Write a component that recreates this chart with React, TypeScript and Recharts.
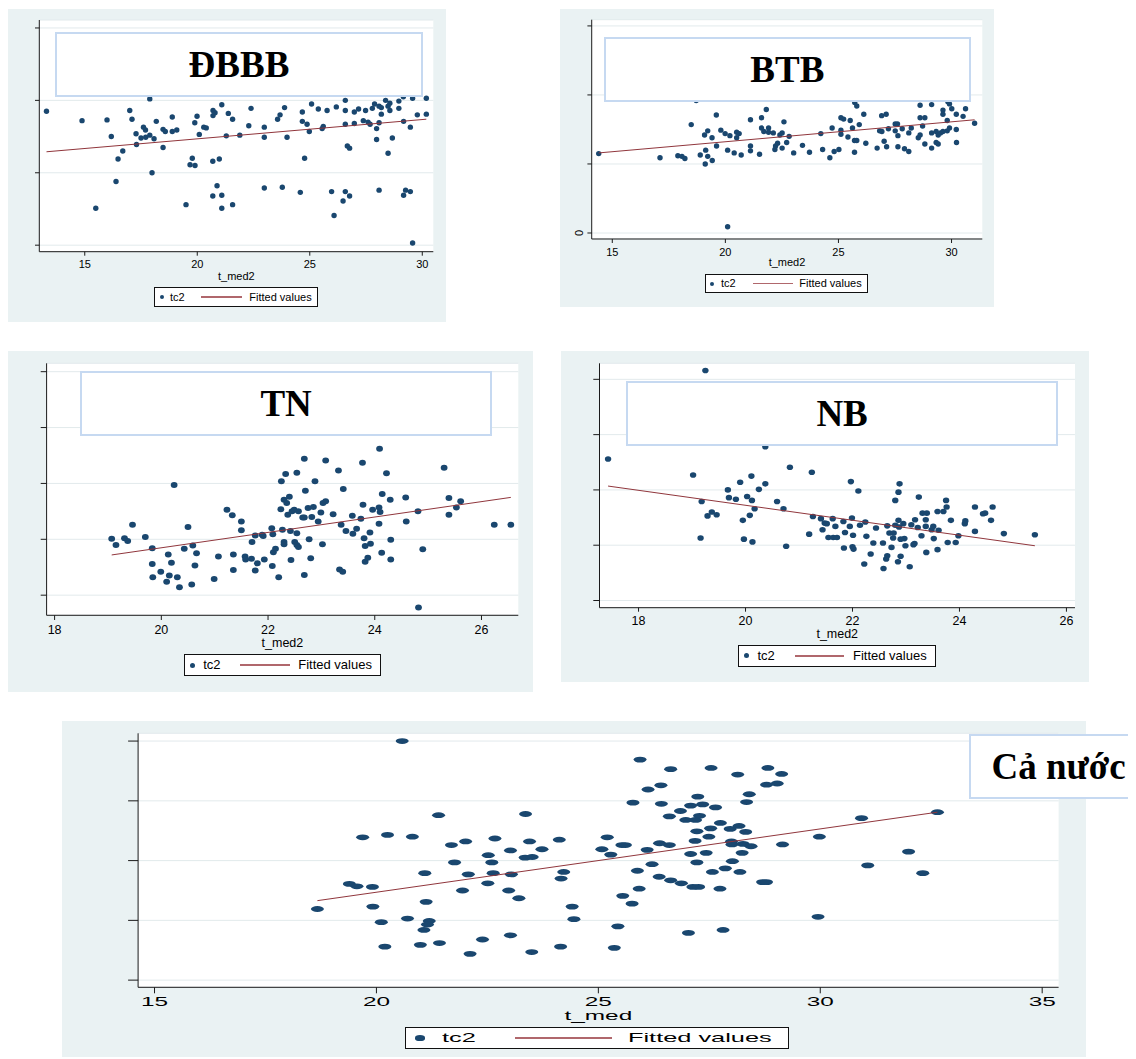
import React from "react";
import { ScatterChart, Scatter, XAxis, YAxis, CartesianGrid } from "recharts";

type Pt = [number, number];

// ĐBBB
const dbbbPoints: Pt[] = [
  [13.3, 1.85], [14.88, 1.72], [15.49, 0.51], [15.99, 1.73], [16.18, 1.5], [16.48, 1.19], [16.39, 0.88], [16.69, 1.3],
  [17.0, 1.86], [17.1, 1.74], [17.28, 1.54], [17.3, 1.39], [17.5, 1.48], [17.61, 1.63], [17.7, 1.59], [17.71, 1.49],
  [17.89, 2.02], [17.89, 1.52], [17.99, 1.0], [18.08, 1.47], [18.18, 1.71], [18.48, 1.35], [18.48, 1.6], [18.58, 1.57],
  [18.89, 1.77], [18.89, 1.57], [19.09, 1.59], [19.5, 0.56], [19.68, 1.11], [19.78, 1.2], [19.9, 1.1], [19.89, 1.69],
  [19.99, 1.78], [20.09, 1.53], [20.29, 1.63], [20.4, 1.62], [20.69, 1.16], [20.69, 0.68], [20.7, 1.86], [20.7, 1.79],
  [20.79, 1.83], [20.88, 0.82], [20.98, 1.19], [21.09, 1.94], [21.09, 0.69], [21.09, 0.51], [21.29, 1.51], [21.38, 1.82],
  [21.57, 1.74], [21.57, 0.56], [21.89, 1.52], [22.29, 1.65], [22.39, 1.89], [22.98, 1.63], [22.98, 1.49], [22.98, 0.79],
  [23.57, 1.74], [23.68, 1.8], [23.78, 0.8], [23.88, 1.9], [23.99, 1.49], [24.58, 0.73], [24.67, 1.84], [24.67, 1.71],
  [24.77, 1.2], [24.88, 1.67], [24.98, 1.57], [25.08, 1.95], [25.38, 1.88], [25.55, 1.61], [25.6, 1.64], [25.77, 1.86],
  [25.97, 0.74], [26.08, 0.41], [26.18, 1.91], [26.48, 0.61], [26.58, 2.0], [26.58, 1.86], [26.58, 1.67], [26.58, 0.74],
  [26.67, 1.37], [26.77, 1.34], [26.77, 0.68], [26.98, 1.84], [26.98, 1.68], [27.17, 1.88], [27.38, 1.72], [27.48, 1.86],
  [27.59, 1.7], [27.68, 1.67], [27.78, 1.89], [27.88, 1.95], [27.97, 1.61], [27.97, 1.46], [28.08, 1.92], [28.08, 1.69],
  [28.08, 0.76], [28.18, 1.9], [28.18, 1.81], [28.37, 2.0], [28.48, 1.27], [28.48, 1.92], [28.56, 1.96], [28.56, 1.86],
  [28.67, 1.48], [28.96, 1.99], [28.96, 1.89], [29.17, 1.71], [29.17, 0.69], [29.26, 0.76], [29.47, 1.63], [29.47, 0.74],
  [29.57, 2.03], [29.57, 0.03], [29.78, 1.8], [30.18, 2.03], [30.18, 1.81], [29.16, 2.05],
];
const dbbbFit: Pt[] = [[13.3, 1.29], [30.18, 1.74]];

// BTB
const btbPoints: Pt[] = [
  [14.4, 1.15], [17.11, 1.09], [17.9, 1.12], [18.08, 1.11], [18.21, 1.08], [18.49, 1.57], [18.71, 1.92], [18.89, 1.13],
  [19.08, 1.42], [19.11, 1.0], [19.13, 1.2], [19.22, 1.48], [19.22, 1.11], [19.41, 1.38], [19.42, 1.05], [19.6, 1.71],
  [19.61, 1.26], [19.8, 1.49], [19.99, 1.44], [20.1, 0.09], [20.1, 1.2], [20.2, 1.41], [20.39, 1.16], [20.5, 1.46],
  [20.5, 1.38], [20.61, 1.44], [20.7, 1.13], [21.11, 1.64], [21.11, 1.26], [21.11, 1.19], [21.51, 1.14], [21.6, 1.67],
  [21.6, 1.52], [21.7, 1.47], [21.81, 1.79], [21.91, 1.52], [21.91, 1.46], [22.12, 1.45], [22.19, 1.21], [22.22, 1.26],
  [22.31, 1.3], [22.41, 1.42], [22.51, 1.45], [22.51, 1.23], [22.59, 1.61], [22.71, 1.31], [22.82, 1.4], [23.02, 1.16],
  [23.41, 1.27], [23.72, 1.17], [24.22, 1.44], [24.3, 1.21], [24.62, 1.09], [24.72, 1.52], [24.81, 1.18], [25.02, 1.21],
  [25.11, 1.67], [25.11, 1.49], [25.11, 1.43], [25.23, 1.65], [25.42, 1.39], [25.52, 1.63], [25.62, 1.52], [25.71, 1.34],
  [25.71, 1.17], [25.81, 1.84], [25.81, 1.34], [25.92, 1.57], [26.12, 1.72], [26.21, 1.3], [26.71, 1.23], [26.82, 1.48],
  [26.91, 1.7], [26.92, 1.47], [27.02, 1.33], [27.11, 1.72], [27.13, 1.25], [27.21, 1.51], [27.51, 1.48], [27.51, 1.58],
  [27.61, 1.58], [27.63, 1.25], [27.63, 1.41], [27.82, 1.51], [27.92, 1.22], [28.11, 1.45], [28.11, 1.18], [28.22, 1.52],
  [28.53, 1.38], [28.61, 1.85], [28.61, 1.67], [28.61, 1.42], [28.72, 1.55], [28.82, 1.67], [28.82, 1.29], [29.12, 1.86],
  [29.12, 1.45], [29.12, 1.23], [29.32, 1.47], [29.32, 1.31], [29.41, 1.42], [29.41, 1.29], [29.51, 1.45], [29.62, 1.78],
  [29.62, 1.72], [29.62, 1.47], [29.81, 1.63], [29.81, 1.48], [29.91, 1.87], [29.91, 1.52], [30.01, 1.8], [30.21, 1.72],
  [30.21, 1.5], [30.22, 1.31], [30.51, 1.69], [30.62, 1.8], [31.02, 1.59], [25.72, 1.89], [29.84, 1.9],
];
const btbFit: Pt[] = [[14.4, 1.16], [31.02, 1.64]];

// TN
const tnPoints: Pt[] = [
  [19.07, 1.01], [19.15, 0.9], [19.31, 1.02], [19.37, 0.97], [19.46, 1.26], [19.7, 1.04], [19.83, 0.84], [19.83, 0.56],
  [19.84, 0.32], [19.99, 0.42], [20.1, 0.24], [20.13, 0.73], [20.15, 0.35], [20.19, 0.58], [20.24, 1.97], [20.3, 0.32],
  [20.34, 0.14], [20.43, 0.83], [20.5, 1.22], [20.57, 0.19], [20.59, 0.89], [20.63, 0.53], [20.66, 0.75], [20.99, 0.29],
  [21.07, 0.69], [21.23, 1.53], [21.33, 1.43], [21.35, 0.73], [21.35, 0.45], [21.5, 1.32], [21.5, 1.16], [21.57, 0.69],
  [21.58, 0.64], [21.69, 0.65], [21.7, 0.95], [21.76, 1.07], [21.76, 0.44], [21.8, 0.57], [21.89, 1.08], [21.91, 1.06],
  [21.93, 0.64], [22.07, 1.2], [22.09, 1.09], [22.08, 0.52], [22.1, 0.77], [22.14, 0.83], [22.2, 0.32], [22.24, 1.54],
  [22.25, 2.04], [22.27, 1.17], [22.3, 1.71], [22.3, 0.95], [22.3, 0.91], [22.33, 2.17], [22.35, 1.65], [22.37, 1.44],
  [22.4, 1.76], [22.42, 1.15], [22.43, 0.63], [22.45, 1.5], [22.49, 1.53], [22.5, 0.95], [22.54, 2.19], [22.54, 1.11],
  [22.54, 0.9], [22.57, 1.5], [22.57, 0.86], [22.65, 1.39], [22.68, 2.44], [22.68, 1.39], [22.68, 0.36], [22.7, 1.87],
  [22.75, 1.56], [22.77, 1.0], [22.8, 0.66], [22.82, 1.4], [22.85, 1.58], [22.88, 2.04], [22.94, 1.32], [22.99, 1.48],
  [23.02, 0.91], [23.03, 1.65], [23.08, 2.41], [23.08, 1.68], [23.22, 1.45], [23.32, 2.23], [23.34, 0.46], [23.37, 1.26],
  [23.4, 0.42], [23.41, 1.9], [23.46, 1.15], [23.58, 1.42], [23.59, 1.1], [23.66, 1.19], [23.74, 1.37], [23.77, 2.37],
  [23.78, 1.62], [23.8, 1.02], [23.82, 0.88], [23.82, 0.6], [23.87, 0.67], [23.91, 1.12], [23.92, 0.92], [23.96, 1.53],
  [24.08, 1.57], [24.08, 1.28], [24.09, 2.62], [24.1, 1.49], [24.13, 0.76], [24.14, 1.81], [24.22, 2.18], [24.29, 1.71],
  [24.3, 0.99], [24.3, 0.64], [24.58, 1.75], [24.59, 1.32], [24.81, 1.5], [24.82, -0.22], [24.9, 0.82], [25.3, 2.28],
  [25.39, 1.74], [25.39, 1.44], [25.53, 1.57], [25.61, 1.68], [26.24, 1.26], [26.55, 1.26],
];
const tnFit: Pt[] = [[19.07, 0.72], [26.55, 1.75]];

// NB
const nbPoints: Pt[] = [
  [17.43, 2.56], [19.25, 4.16], [19.02, 2.27], [19.18, 1.79], [19.16, 1.13], [19.29, 1.53], [19.37, 1.6], [19.46, 1.55],
  [19.67, 2.0], [19.69, 1.86], [19.82, 1.83], [19.9, 2.14], [19.95, 1.45], [19.97, 1.11], [20.03, 1.88], [20.08, 1.54],
  [20.11, 2.25], [20.12, 1.81], [20.13, 1.06], [20.17, 1.66], [20.25, 2.01], [20.37, 2.11], [20.37, 2.78], [20.59, 1.79],
  [20.71, 1.66], [20.76, 0.98], [20.83, 2.41], [21.19, 1.2], [21.24, 2.32], [21.26, 1.52], [21.41, 1.48], [21.44, 1.28],
  [21.48, 1.4], [21.52, 1.39], [21.55, 1.14], [21.63, 1.48], [21.64, 1.14], [21.68, 1.34], [21.71, 1.14], [21.83, 1.43],
  [21.84, 0.95], [21.86, 1.23], [21.95, 1.34], [21.97, 2.15], [21.99, 1.49], [22.0, 0.97], [22.01, 1.18], [22.02, 0.93],
  [22.11, 1.98], [22.14, 1.36], [22.22, 0.66], [22.24, 1.42], [22.26, 1.16], [22.34, 0.84], [22.39, 1.04], [22.44, 1.31],
  [22.57, 1.04], [22.58, 0.58], [22.63, 0.75], [22.65, 1.35], [22.65, 0.81], [22.69, 1.22], [22.73, 0.96], [22.76, 1.13],
  [22.77, 1.22], [22.8, 1.81], [22.8, 1.36], [22.85, 0.7], [22.86, 1.45], [22.86, 1.96], [22.87, 1.33], [22.88, 2.11],
  [22.9, 0.8], [22.9, 1.11], [22.95, 1.39], [22.97, 1.12], [22.99, 0.99], [23.07, 0.61], [23.1, 1.37], [23.14, 1.01],
  [23.16, 1.03], [23.17, 1.46], [23.22, 1.32], [23.24, 1.87], [23.29, 1.17], [23.31, 1.58], [23.37, 1.34], [23.37, 1.46],
  [23.38, 0.87], [23.39, 1.58], [23.48, 1.28], [23.51, 1.34], [23.52, 1.12], [23.59, 1.61], [23.59, 0.92], [23.61, 1.27],
  [23.7, 1.61], [23.75, 1.81], [23.76, 1.69], [23.78, 1.05], [23.84, 1.45], [23.93, 1.05], [23.98, 1.17], [24.1, 1.39],
  [24.11, 1.44], [24.29, 1.69], [24.29, 1.25], [24.44, 1.57], [24.48, 1.58], [24.59, 1.45], [24.62, 1.69], [24.83, 1.21],
  [25.41, 1.19],
];
const nbFit: Pt[] = [[17.43, 2.07], [25.41, 0.99]];

// Cả nước
const allPoints: Pt[] = [
  [20.58, 4.0], [21.4, 2.76], [23.36, 2.78], [19.69, 2.39], [20.25, 2.43], [20.81, 2.4], [21.69, 2.26], [22.01, 2.32],
  [22.67, 2.37], [23.45, 2.32], [24.12, 2.35], [23.73, 2.19], [23.02, 2.17], [22.52, 2.09], [22.6, 1.97], [23.35, 2.05],
  [23.51, 2.06], [21.76, 1.97], [21.09, 1.79], [22.07, 1.77], [22.63, 1.79], [23.04, 1.77], [24.22, 1.81], [24.16, 1.7],
  [19.39, 1.61], [19.56, 1.57], [19.91, 1.56], [22.51, 1.62], [21.94, 1.5], [22.98, 1.5], [23.21, 1.37], [21.12, 1.31],
  [18.67, 1.19], [19.92, 1.23], [24.41, 1.23], [20.7, 1.03], [24.45, 1.02], [20.11, 0.97], [21.19, 0.99], [21.15, 0.93],
  [21.07, 0.84], [23.02, 0.75], [22.39, 0.68], [21.42, 0.62], [20.19, 0.56], [20.99, 0.59], [24.15, 0.56], [22.11, 0.44],
  [23.5, 0.47],
  [25.94, 3.69], [26.63, 3.53], [27.54, 3.55], [28.14, 3.44], [28.82, 3.55], [29.13, 3.45], [26.12, 3.19], [26.41, 3.26],
  [28.79, 3.27], [29.03, 3.29], [28.4, 3.11], [28.34, 2.98], [25.78, 2.97], [26.42, 2.95], [27.24, 3.07], [27.08, 2.92],
  [27.35, 2.94], [27.64, 2.89], [26.85, 2.83], [26.6, 2.74], [27.28, 2.75], [26.97, 2.68], [27.19, 2.68], [27.75, 2.63],
  [27.53, 2.54], [27.22, 2.49], [27.49, 2.4], [27.97, 2.53], [28.17, 2.58], [28.32, 2.48], [25.2, 2.39], [25.08, 2.19],
  [25.28, 2.1], [25.53, 2.26], [25.61, 2.26], [26.1, 2.18], [26.38, 2.29], [26.6, 2.26], [27.18, 2.33], [28.0, 2.32],
  [28.01, 2.27], [28.26, 2.28], [28.44, 2.24], [29.15, 2.27], [29.98, 2.4], [30.93, 2.71], [32.64, 2.81], [31.99, 2.15],
  [31.07, 1.92], [32.31, 1.79], [27.08, 2.11], [27.43, 2.13], [28.24, 2.13], [26.21, 1.94], [27.22, 1.97], [28.02, 1.99],
  [25.88, 1.83], [27.57, 1.81], [27.86, 1.87], [28.19, 1.81], [26.37, 1.73], [26.63, 1.67], [26.87, 1.62], [27.13, 1.56],
  [27.26, 1.56], [27.74, 1.53], [28.7, 1.64], [28.79, 1.64], [25.92, 1.53], [25.55, 1.41], [25.76, 1.28], [29.95, 1.06],
  [25.44, 0.9], [27.81, 0.84], [27.03, 0.79], [25.36, 0.54],
];
const allFit: Pt[] = [[18.67, 1.33], [32.64, 2.81]];

const ticks15to30 = [15, 20, 25, 30];
const ticks18to26 = [18, 20, 22, 24, 26];
const ticks15to35 = [15, 20, 25, 30, 35];
const yTicks4 = [0, 1, 2, 3];
const yTicks5 = [0, 1, 2, 3, 4];

const NAVY = "#1a476f";
const MAROON = "#90353b";
const LEGEND_LINE = "#b0676c";
const BG = "#eaf2f3";
const GRID = "#e2eaec";
const BOX = "#c6d9f1";
const SANS = '"Liberation Sans", Arial, sans-serif';
const SERIF = '"Liberation Serif", "Times New Roman", serif';

type Rect = { l: number; t: number; r: number; b: number };

interface PanelCfg {
  title: string;
  points: Pt[];
  fit: Pt[];
  xLabel: string;
  xTicks: number[];
  yTicks: number[];
  xDomain: [number, number];
  yDomain: [number, number];
  bg: { x: number; y: number; w: number; h: number };
  plot: Rect;
  titleBox: Rect;
  legend: { l: number; t: number; w: number; h: number; dot: number; tc2: number; line: number; lineW: number; fitted: number; drx: number; dry: number };
  font: number;
  axisFont: number;
  sx: number;
  gap: number;
  xLabelY: number;
  xTickLen: number;
  yTickLen: number;
  rx: number;
  ry: number;
  zeroLabel?: boolean;
}

function Panel(c: PanelCfg) {
  const { bg, plot, titleBox: tb, legend: lg } = c;
  const data = c.points.map(([x, y]) => ({ x, y }));
  const fit = c.fit.map(([x, y]) => ({ x, y }));
  const axisY = plot.b - bg.y;
  const inner = lg.h - 2;
  return (
    <div style={{ position: "absolute", left: bg.x, top: bg.y, width: bg.w, height: bg.h, background: BG }}>
      <ScatterChart
        width={bg.w}
        height={bg.h}
        margin={{ top: plot.t - bg.y, right: bg.x + bg.w - plot.r, bottom: 0, left: 0 }}
      >
        <CartesianGrid vertical={false} stroke={GRID} fill="#ffffff" fillOpacity={1} />
        <XAxis
          type="number"
          dataKey="x"
          domain={c.xDomain}
          ticks={c.xTicks}
          interval={0}
          allowDataOverflow
          height={bg.y + bg.h - plot.b}
          stroke="#1a1a1a"
          tickSize={c.xTickLen}
          tickMargin={0}
          tick={(p: any) => (
            <text
              transform={`translate(${p.x},${axisY + c.gap}) scale(${c.sx},1)`}
              textAnchor="middle"
              dy="0.36em"
              fontSize={c.axisFont}
              fontFamily={SANS}
              fill="#000"
            >
              {p.payload.value}
            </text>
          )}
          label={{
            content: () => (
              <text
                transform={`translate(${(plot.l + plot.r) / 2 - bg.x},${c.xLabelY - bg.y}) scale(${c.sx},1)`}
                textAnchor="middle"
                dy="0.36em"
                fontSize={c.axisFont}
                fontFamily={SANS}
                fill="#000"
              >
                {c.xLabel}
              </text>
            ),
          }}
        />
        <YAxis
          type="number"
          dataKey="y"
          domain={c.yDomain}
          ticks={c.yTicks}
          interval={0}
          allowDataOverflow
          width={plot.l - bg.x}
          stroke="#1a1a1a"
          tickSize={c.yTickLen}
          tickMargin={0}
          tick={(p: any) =>
            c.zeroLabel && p.payload.value === 0 ? (
              <text
                transform={`translate(${plot.l - bg.x - 8.5},${p.y}) rotate(-90)`}
                textAnchor="middle"
                fontSize={c.axisFont}
                fontFamily={SANS}
                fill="#000"
              >
                0
              </text>
            ) : (
              <g />
            )
          }
        />
        <Scatter
          data={data}
          fill={NAVY}
          isAnimationActive={false}
          shape={(p: any) => <ellipse cx={p.cx} cy={p.cy} rx={c.rx} ry={c.ry} fill={NAVY} />}
        />
        <Scatter
          data={fit}
          isAnimationActive={false}
          line={{ stroke: MAROON, strokeWidth: 1 }}
          shape={() => <g />}
        />
      </ScatterChart>

      <div
        style={{
          position: "absolute",
          left: tb.l - bg.x,
          top: tb.t - bg.y,
          width: tb.r - tb.l,
          height: tb.b - tb.t,
          boxSizing: "border-box",
          border: `2px solid ${BOX}`,
          background: "#fff",
          display: "flex",
          alignItems: "center",
          justifyContent: "center",
          fontFamily: SERIF,
          fontWeight: "bold",
          fontSize: 37,
          color: "#000",
          whiteSpace: "nowrap",
        }}
      >
        {c.title}
      </div>

      <div
        style={{
          position: "absolute",
          left: lg.l - bg.x,
          top: lg.t - bg.y,
          width: lg.w,
          height: lg.h,
          boxSizing: "border-box",
          border: "1px solid #111",
          background: "#fff",
          fontFamily: SANS,
          fontSize: c.font,
          color: "#000",
        }}
      >
        <div
          style={{
            position: "absolute",
            left: lg.dot - lg.drx - 1,
            top: inner / 2 - lg.dry,
            width: lg.drx * 2,
            height: lg.dry * 2,
            borderRadius: "50%",
            background: NAVY,
          }}
        />
        <span
          style={{
            position: "absolute",
            left: lg.tc2 - 1,
            top: 0,
            lineHeight: `${inner}px`,
            transform: `scaleX(${c.sx})`,
            transformOrigin: "0 50%",
            whiteSpace: "nowrap",
          }}
        >
          tc2
        </span>
        <div
          style={{
            position: "absolute",
            left: lg.line - 1,
            top: inner / 2 - 0.75,
            width: lg.lineW,
            height: 1.5,
            background: LEGEND_LINE,
          }}
        />
        <span
          style={{
            position: "absolute",
            left: lg.fitted - 1,
            top: 0,
            lineHeight: `${inner}px`,
            transform: `scaleX(${c.sx})`,
            transformOrigin: "0 50%",
            whiteSpace: "nowrap",
          }}
        >
          Fitted values
        </span>
      </div>
    </div>
  );
}

const panels: PanelCfg[] = [
  {
    title: "ĐBBB",
    points: dbbbPoints,
    fit: dbbbFit,
    xLabel: "t_med2",
    xTicks: ticks15to30,
    yTicks: yTicks4,
    xDomain: [12.98, 30.49],
    yDomain: [-0.09, 3.11],
    bg: { x: 7, y: 9, w: 439, h: 313 },
    plot: { l: 39.3, t: 20, r: 433.3, b: 251.7 },
    titleBox: { l: 55, t: 31.7, r: 423, b: 97.3 },
    legend: { l: 154, t: 286.7, w: 164.3, h: 20.3, dot: 7.7, tc2: 16, line: 47.3, lineW: 41, fitted: 95.3, drx: 2, dry: 2 },
    font: 11,
    axisFont: 11,
    sx: 1,
    gap: 12.4,
    xLabelY: 275.6,
    xTickLen: 4,
    yTickLen: 4.3,
    rx: 2.7,
    ry: 2.7,
  },
  {
    title: "BTB",
    points: btbPoints,
    fit: btbFit,
    xLabel: "t_med2",
    xTicks: ticks15to30,
    yTicks: yTicks4,
    xDomain: [14.09, 31.36],
    yDomain: [-0.087, 3.09],
    bg: { x: 560, y: 9.3, w: 434, h: 297.4 },
    plot: { l: 591.7, t: 20, r: 982.3, b: 239.3 },
    titleBox: { l: 603.7, t: 37.3, r: 971, b: 102 },
    legend: { l: 705.3, t: 274, w: 163, h: 19.3, dot: 7, tc2: 15.7, line: 47.4, lineW: 40, fitted: 94, drx: 2, dry: 2 },
    font: 11,
    axisFont: 11,
    sx: 1,
    gap: 12.8,
    xLabelY: 262.6,
    xTickLen: 4,
    yTickLen: 4.3,
    rx: 2.7,
    ry: 2.7,
    zeroLabel: true,
  },
  {
    title: "TN",
    points: tnPoints,
    fit: tnFit,
    xLabel: "t_med2",
    xTicks: ticks18to26,
    yTicks: yTicks5,
    xDomain: [17.85, 26.69],
    yDomain: [-0.36, 4.15],
    bg: { x: 6.9, y: 351, w: 526.1, h: 340.7 },
    plot: { l: 46.5, t: 363.3, r: 518.2, b: 615.3 },
    titleBox: { l: 79.9, t: 371, r: 492.4, b: 436 },
    legend: { l: 184.2, t: 654, w: 196.7, h: 22, dot: 8.6, tc2: 19, line: 56.2, lineW: 49.6, fitted: 114, drx: 2.5, dry: 2.5 },
    font: 13,
    axisFont: 12.5,
    sx: 1,
    gap: 14,
    xLabelY: 643,
    xTickLen: 4.7,
    yTickLen: 5.9,
    rx: 3.4,
    ry: 3,
  },
  {
    title: "NB",
    points: nbPoints,
    fit: nbFit,
    xLabel: "t_med2",
    xTicks: ticks18to26,
    yTicks: yTicks5,
    xDomain: [17.27, 26.16],
    yDomain: [-0.13, 4.29],
    bg: { x: 560.8, y: 351, w: 528.2, h: 330.7 },
    plot: { l: 599.3, t: 363.3, r: 1074.8, b: 607.7 },
    titleBox: { l: 626.2, t: 380.7, r: 1058, b: 445.7 },
    legend: { l: 737.8, t: 645, w: 197.8, h: 21.7, dot: 8.8, tc2: 19.7, line: 57.2, lineW: 49.3, fitted: 115.2, drx: 2.5, dry: 2.5 },
    font: 13,
    axisFont: 12.5,
    sx: 1,
    gap: 12.8,
    xLabelY: 634,
    xTickLen: 4,
    yTickLen: 6.2,
    rx: 3.2,
    ry: 2.8,
  },
  {
    title: "Cả nước",
    points: allPoints,
    fit: allFit,
    xLabel: "t_med",
    xTicks: ticks15to35,
    yTicks: yTicks5,
    xDomain: [14.63, 35.37],
    yDomain: [-0.12, 4.13],
    bg: { x: 61.7, y: 721, w: 1024.3, h: 336 },
    plot: { l: 137.8, t: 733.3, r: 1058.3, b: 987.3 },
    titleBox: { l: 969.3, t: 734, r: 1148, b: 799.3 },
    legend: { l: 405.4, t: 1026.7, w: 383.8, h: 22.6, dot: 14.6, tc2: 36.3, line: 109.6, lineW: 96.7, fitted: 222.9, drx: 5, dry: 2.6 },
    font: 13,
    axisFont: 12.5,
    sx: 1.95,
    gap: 14,
    xLabelY: 1015,
    xTickLen: 6,
    yTickLen: 10,
    rx: 6.5,
    ry: 2.9,
  },
];

export default function App() {
  return (
    <div
      style={{
        position: "relative",
        left: -8,
        top: -8,
        width: 1136,
        height: 1059,
        background: "#fff",
        overflow: "hidden",
      }}
    >
      {panels.map((p) => (
        <Panel key={p.title} {...p} />
      ))}
    </div>
  );
}
